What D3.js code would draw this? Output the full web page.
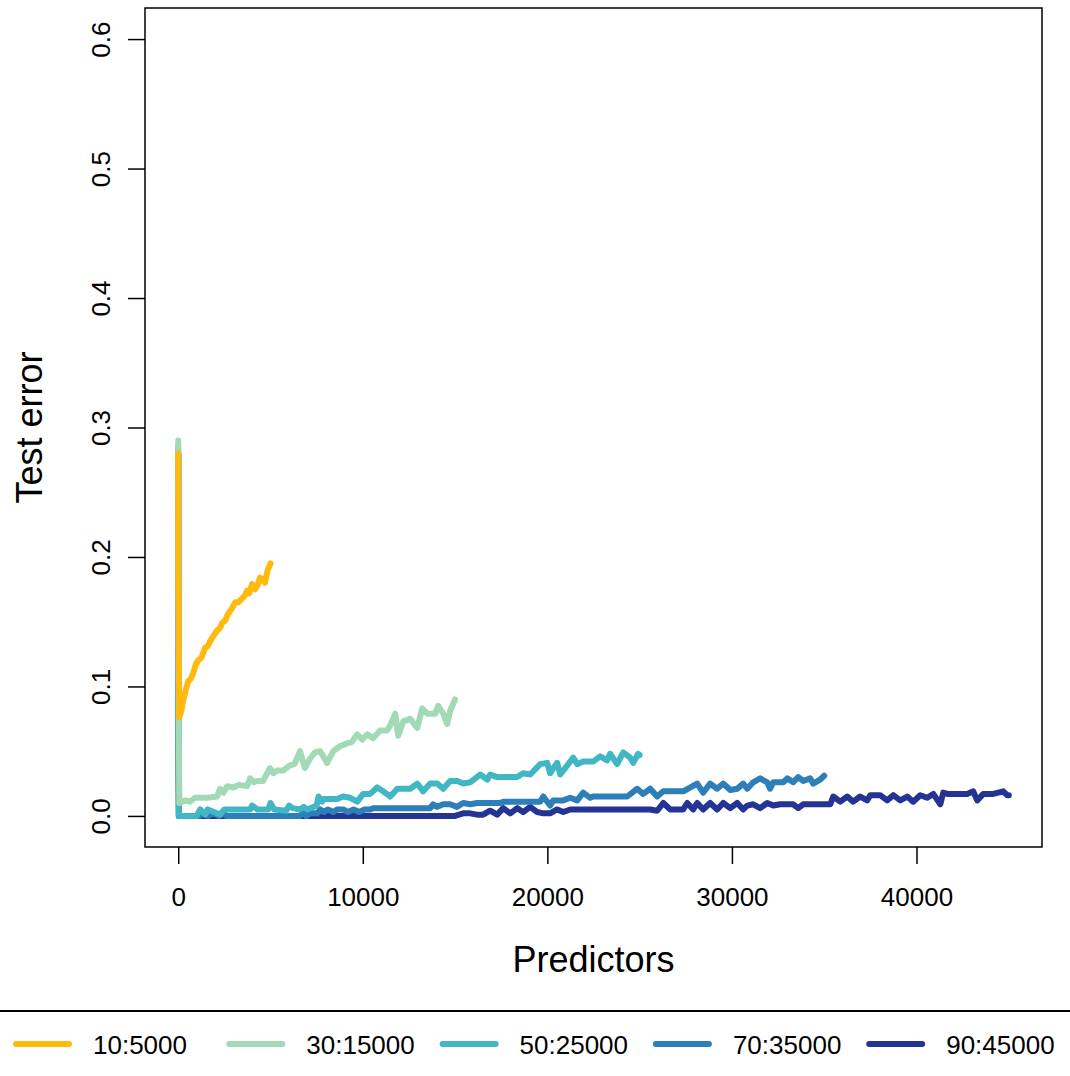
<!DOCTYPE html>
<html>
<head>
<meta charset="utf-8">
<script src="https://cdn.jsdelivr.net/npm/d3@7"></script>
<style>
  body { margin: 0; background: #fff; }
  text { font-family: "Liberation Sans", Arial, sans-serif; fill: #000; }
</style>
</head>
<body>
<div id="chart"></div>
<script>
//series names and colours, in legend order
var seriesLabels = ["10:5000", "30:15000", "50:25000", "70:35000", "90:45000"];
var seriesColors = ["#FFB90F", "#A1DAB4", "#41B6C4", "#2C7FB8", "#253494"];

//tick labels
var xTicks = [0, 10000, 20000, 30000, 40000];
var yTicks = [0.0, 0.1, 0.2, 0.3, 0.4, 0.5, 0.6];

//[predictors, test error]
var err10 = [[0,0.280],[10,0.200],[30,0.120],[50,0.076],[150,0.080],[270,0.089],[400,0.097],[540,0.104],
  [680,0.106],[810,0.110],[950,0.117],[1080,0.120],[1250,0.122],[1460,0.130],[1600,0.131],[1730,0.135],
  [1900,0.139],[2100,0.143],[2250,0.145],[2380,0.149],[2550,0.151],[2700,0.156],[2900,0.160],[3080,0.165],
  [3250,0.165],[3460,0.168],[3600,0.170],[3730,0.174],[3850,0.172],[4000,0.179],[4160,0.175],[4300,0.178],
  [4430,0.184],[4560,0.183],[4700,0.180],[4850,0.190],[5000,0.195]];

var err30 = [[0,0.290],[10,0.200],[30,0.075],[60,0.010],[400,0.012],[650,0.011],[900,0.014],[1190,0.014],
  [1600,0.014],[2100,0.015],[2270,0.021],[2450,0.018],[2650,0.023],[3000,0.022],[3300,0.024],[3730,0.023],
  [3890,0.029],[4100,0.026],[4270,0.027],[4590,0.027],[4970,0.037],[5150,0.033],[5350,0.035],[5680,0.035],
  [6050,0.039],[6300,0.040],[6600,0.050],[6860,0.037],[7130,0.044],[7400,0.049],[7690,0.050],[8070,0.041],
  [8400,0.050],[8780,0.054],[9150,0.056],[9400,0.057],[9700,0.063],[9970,0.059],[10240,0.063],[10560,0.060],
  [10940,0.066],[11320,0.066],[11490,0.070],[11760,0.079],[11920,0.062],[12190,0.073],[12570,0.075],
  [12950,0.068],[13220,0.083],[13490,0.079],[13920,0.079],[14090,0.085],[14360,0.079],[14570,0.071],
  [14730,0.081],[15000,0.090]];

var err50 = [[0,0.285],[10,0.150],[20,0.070],[40,0.000],[1000,0.000],[1190,0.005],[1460,0.001],[1600,0.005],
  [2270,0.001],[2500,0.005],[3900,0.005],[4000,0.008],[4300,0.005],[4870,0.005],[5000,0.010],[5200,0.005],
  [5850,0.004],[6000,0.008],[6200,0.006],[6600,0.005],[6800,0.007],[7000,0.005],[7500,0.008],[7600,0.015],
  [7800,0.011],[7860,0.013],[8610,0.013],[8940,0.015],[9320,0.014],[9700,0.011],[10020,0.017],[10400,0.017],
  [10780,0.022],[11110,0.019],[11490,0.015],[11870,0.021],[12570,0.021],[12950,0.025],[13270,0.019],
  [13650,0.025],[14030,0.025],[14360,0.021],[14730,0.027],[15120,0.027],[15440,0.025],[15820,0.026],
  [16360,0.032],[16740,0.028],[16900,0.032],[17280,0.030],[18370,0.030],[18690,0.033],[19070,0.032],
  [19610,0.040],[19990,0.041],[20150,0.033],[20530,0.041],[20700,0.032],[20970,0.037],[21400,0.045],
  [21620,0.040],[21940,0.042],[22480,0.042],[22860,0.046],[23240,0.043],[23400,0.048],[23780,0.040],
  [24110,0.049],[24490,0.045],[24650,0.041],[24920,0.048],[25000,0.047]];

var err70 = [[0,0.280],[10,0.100],[20,0.027],[40,0.000],[1200,0.000],[1350,0.002],[1600,0.000],[1900,0.002],
  [2200,0.000],[2440,0.002],[2600,0.000],[6600,0.000],[6770,0.003],[6950,0.000],[7150,0.002],[7530,0.002],
  [7690,0.005],[7900,0.003],[8100,0.005],[8400,0.003],[8610,0.005],[8940,0.005],[9200,0.003],[9500,0.005],
  [9800,0.003],[10100,0.005],[10400,0.005],[10560,0.006],[13650,0.006],[13810,0.009],[14030,0.007],
  [14360,0.009],[14730,0.009],[15100,0.007],[15440,0.010],[15820,0.009],[16200,0.010],[17450,0.010],
  [17610,0.011],[19610,0.011],[19780,0.015],[20150,0.008],[20320,0.012],[20860,0.012],[21240,0.014],
  [21620,0.012],[21940,0.018],[22320,0.014],[22480,0.015],[24330,0.015],[24600,0.018],[24870,0.021],
  [25190,0.017],[25570,0.021],[25950,0.015],[26280,0.019],[27360,0.019],[28120,0.025],[28440,0.018],
  [28820,0.025],[29200,0.021],[29530,0.025],[29910,0.020],[30290,0.021],[30610,0.025],[30830,0.021],
  [31150,0.026],[31530,0.029],[31910,0.026],[32070,0.021],[32240,0.026],[32780,0.026],[33000,0.029],
  [33320,0.026],[33590,0.030],[33860,0.027],[34240,0.029],[34400,0.025],[34780,0.028],[35000,0.031]];

var err90 = [[0,0.280],[15,0.080],[30,0.000],[15000,0.000],[15440,0.002],[15820,0.002],[16200,0.001],
  [16520,0.001],[16900,0.004],[17280,0.001],[17610,0.006],[17990,0.002],[18370,0.006],[18690,0.003],
  [19070,0.007],[19450,0.003],[19780,0.002],[20150,0.002],[20530,0.005],[20860,0.003],[21240,0.005],
  [25570,0.005],[25950,0.004],[26280,0.010],[26660,0.005],[27360,0.005],[27580,0.010],[27900,0.005],
  [28120,0.010],[28440,0.005],[28820,0.010],[29200,0.005],[29530,0.010],[29910,0.006],[30290,0.010],
  [30610,0.005],[30830,0.008],[31150,0.009],[31530,0.006],[31910,0.010],[32240,0.008],[32620,0.009],
  [33320,0.009],[33590,0.006],[33860,0.009],[35330,0.009],[35490,0.015],[35870,0.011],[36250,0.015],
  [36570,0.011],[36950,0.015],[37330,0.012],[37490,0.016],[38030,0.016],[38410,0.012],[38740,0.016],
  [39120,0.012],[39500,0.015],[39820,0.011],[40200,0.016],[40580,0.014],[40910,0.017],[41290,0.009],
  [41450,0.018],[41670,0.017],[42750,0.017],[43070,0.019],[43290,0.012],[43620,0.017],[44160,0.017],
  [44700,0.019],[44910,0.016],[45000,0.016]];

var allSeries = [err10, err30, err50, err70, err90];

var width = 1070, height = 1076;
var box = {left: 145, right: 1042, top: 8, bottom: 847};

var svg = d3.select('#chart')
  .append('svg')
  .attr('width', width)
  .attr('height', height);

//R style 4% padding on both axes
var x = d3.scaleLinear().domain([-1800, 46800]).range([box.left, box.right]);
var y = d3.scaleLinear().domain([-0.024, 0.624]).range([box.bottom, box.top]);

svg.append('clipPath').attr('id', 'clip')
  .append('rect')
  .attr('x', box.left).attr('y', box.top)
  .attr('width', box.right - box.left).attr('height', box.bottom - box.top);

var line = d3.line()
  .x(function(d) { return x(d[0]); })
  .y(function(d) { return y(d[1]); });

//navy first, orange last (orange sits on top)
var order = [4, 3, 2, 1, 0];
svg.append('g').attr('clip-path', 'url(#clip)')
  .selectAll('path')
  .data(order)
  .enter()
  .append('path')
  .attr('d', function(i) { return line(allSeries[i]); })
  .attr('fill', 'none')
  .attr('stroke', function(i) { return seriesColors[i]; })
  .attr('stroke-width', 6)
  .attr('stroke-linejoin', 'round')
  .attr('stroke-linecap', 'round');

//plot box
svg.append('rect')
  .attr('x', box.left).attr('y', box.top)
  .attr('width', box.right - box.left).attr('height', box.bottom - box.top)
  .attr('fill', 'none').attr('stroke', '#000').attr('stroke-width', 1.5);

//x axis
var xAxis = d3.axisBottom(x).tickValues(xTicks).tickSize(17).tickPadding(24)
  .tickFormat(d3.format('d'));
var gx = svg.append('g').attr('transform', 'translate(0,' + box.bottom + ')').call(xAxis);
gx.select('.domain').remove();
gx.selectAll('line').attr('stroke', '#000').attr('stroke-width', 1.5);
gx.selectAll('text').attr('font-size', 26).attr('font-family', '"Liberation Sans", Arial, sans-serif');

//y axis, labels parallel to the axis like base R
var yAxis = d3.axisLeft(y).tickValues(yTicks).tickSize(17).tickFormat(d3.format('.1f'));
var gy = svg.append('g').attr('transform', 'translate(' + box.left + ',0)').call(yAxis);
gy.select('.domain').remove();
gy.selectAll('line').attr('stroke', '#000').attr('stroke-width', 1.5);
gy.selectAll('text')
  .attr('x', null).attr('dy', null)
  .attr('font-size', 26).attr('font-family', '"Liberation Sans", Arial, sans-serif')
  .attr('text-anchor', 'middle')
  .attr('transform', 'translate(-35,0) rotate(-90)');

//axis titles
svg.append('text')
  .attr('x', (box.left + box.right) / 2).attr('y', 972)
  .attr('text-anchor', 'middle').attr('font-size', 36)
  .text('Predictors');
svg.append('text')
  .attr('transform', 'translate(42,' + (box.top + box.bottom) / 2 + ') rotate(-90)')
  .attr('text-anchor', 'middle').attr('font-size', 36)
  .text('Test error');

//legend under a rule
svg.append('line')
  .attr('x1', 0).attr('x2', width).attr('y1', 1011).attr('y2', 1011)
  .attr('stroke', '#000').attr('stroke-width', 2);

var legend = svg.append('g').selectAll('g')
  .data(seriesLabels)
  .enter()
  .append('g')
  .attr('transform', function(d, i) { return 'translate(' + (16 + i * 213.3) + ',1044)'; });
legend.append('line')
  .attr('x1', 0).attr('x2', 53).attr('y1', 0).attr('y2', 0)
  .attr('stroke', function(d, i) { return seriesColors[i]; })
  .attr('stroke-width', 6).attr('stroke-linecap', 'round');
legend.append('text')
  .attr('x', 77).attr('y', 9.5)
  .attr('font-size', 26)
  .text(function(d) { return d; });
</script>
</body>
</html>
